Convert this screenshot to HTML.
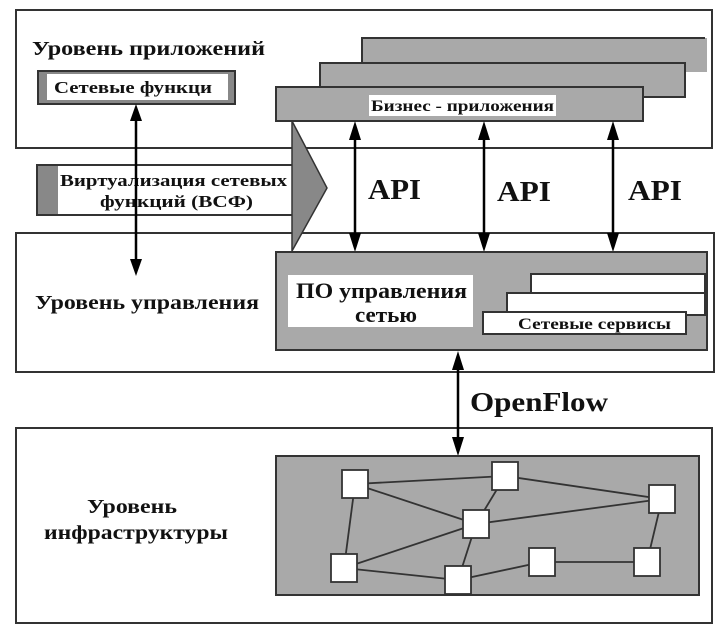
<!DOCTYPE html>
<html><head><meta charset="utf-8"><style>
html,body{margin:0;padding:0;background:#fff;}
svg{display:block;}
text{font-family:"Liberation Serif","DejaVu Serif",serif;font-weight:bold;fill:#111;}
</style></head><body>
<svg width="724" height="635" viewBox="0 0 724 635" xmlns="http://www.w3.org/2000/svg">
<g stroke="#333" stroke-width="2" fill="#fff">
<rect x="16" y="10" width="696" height="138"/>
<rect x="16" y="233" width="698" height="139"/>
<rect x="16" y="428" width="696" height="195"/>
</g>
<!-- business stack -->
<g stroke="#333" stroke-width="2" fill="#a9a9a9">
<rect x="362" y="38" width="345" height="34" stroke="none"/>
<path d="M362,72 V38 H705" fill="none"/>
<rect x="320" y="63" width="365" height="34"/>
<rect x="276" y="87" width="367" height="34"/>
</g>
<rect x="369" y="95" width="187" height="21" fill="#fff"/>
<text x="371" y="111" font-size="16" textLength="183" lengthAdjust="spacingAndGlyphs">Бизнес - приложения</text>
<!-- Сетевые функци -->
<rect x="38" y="71" width="197" height="33" fill="#888" stroke="#333" stroke-width="2"/>
<rect x="47" y="74" width="181" height="26" fill="#fff"/>
<text x="54" y="93" font-size="17" textLength="158" lengthAdjust="spacingAndGlyphs">Сетевые функци</text>
<!-- VSF arrow -->
<rect x="37" y="165" width="256" height="50" fill="#fff" stroke="#333" stroke-width="2"/>
<rect x="38" y="166" width="20" height="48" fill="#888"/>
<path d="M292,121 L327,188 L292,251 Z" fill="#888" stroke="#333" stroke-width="1.5"/>
<text x="60" y="186" font-size="17" textLength="227" lengthAdjust="spacingAndGlyphs">Виртуализация сетевых</text>
<text x="100" y="207" font-size="17" textLength="153" lengthAdjust="spacingAndGlyphs">функций (ВСФ)</text>
<!-- arrows -->
<g stroke="#000" stroke-width="2.5">
<line x1="136" y1="115" x2="136" y2="265"/>
<line x1="355" y1="132" x2="355" y2="240"/>
<line x1="484" y1="132" x2="484" y2="240"/>
<line x1="613" y1="132" x2="613" y2="240"/>
<line x1="458" y1="362" x2="458" y2="444"/>
</g>
<g fill="#000">
<path d="M136,104 L130,121 L142,121 Z"/><path d="M136,276 L130,259 L142,259 Z"/>
<path d="M355,121 L349,140 L361,140 Z"/><path d="M355,252 L349,233 L361,233 Z"/>
<path d="M484,121 L478,140 L490,140 Z"/><path d="M484,252 L478,233 L490,233 Z"/>
<path d="M613,121 L607,140 L619,140 Z"/><path d="M613,252 L607,233 L619,233 Z"/>
<path d="M458,351 L452,370 L464,370 Z"/><path d="M458,456 L452,437 L464,437 Z"/>
</g>
<text x="368" y="199" font-size="28" textLength="53" lengthAdjust="spacingAndGlyphs">API</text>
<text x="497" y="201" font-size="28" textLength="54" lengthAdjust="spacingAndGlyphs">API</text>
<text x="628" y="200" font-size="28" textLength="54" lengthAdjust="spacingAndGlyphs">API</text>
<text x="470" y="411" font-size="27" textLength="138" lengthAdjust="spacingAndGlyphs">OpenFlow</text>
<!-- ПО -->
<rect x="276" y="252" width="431" height="98" fill="#a9a9a9" stroke="#333" stroke-width="2"/>
<rect x="288" y="275" width="185" height="52" fill="#fff"/>
<text x="296" y="298" font-size="22" textLength="171" lengthAdjust="spacingAndGlyphs">ПО управления</text>
<text x="355" y="322" font-size="22" textLength="62" lengthAdjust="spacingAndGlyphs">сетью</text>
<g stroke="#333" stroke-width="2" fill="#fff">
<rect x="531" y="274" width="174" height="22"/>
<rect x="507" y="293" width="198" height="22"/>
<rect x="483" y="312" width="203" height="22"/>
</g>
<text x="518" y="329" font-size="16" textLength="153" lengthAdjust="spacingAndGlyphs">Сетевые сервисы</text>
<!-- labels -->
<text x="32" y="55" font-size="20" textLength="233" lengthAdjust="spacingAndGlyphs">Уровень приложений</text>
<text x="35" y="309" font-size="20" textLength="224" lengthAdjust="spacingAndGlyphs">Уровень управления</text>
<text x="87" y="513" font-size="20" textLength="90" lengthAdjust="spacingAndGlyphs">Уровень</text>
<text x="44" y="539" font-size="20" textLength="184" lengthAdjust="spacingAndGlyphs">инфраструктуры</text>
<!-- infra -->
<rect x="276" y="456" width="423" height="139" fill="#a9a9a9" stroke="#333" stroke-width="2"/>
<g stroke="#333" stroke-width="1.8">
<line x1="355" y1="484" x2="505" y2="476"/>
<line x1="355" y1="484" x2="476" y2="524"/>
<line x1="355" y1="484" x2="344" y2="568"/>
<line x1="505" y1="476" x2="476" y2="524"/>
<line x1="505" y1="476" x2="662" y2="499"/>
<line x1="476" y1="524" x2="662" y2="499"/>
<line x1="476" y1="524" x2="344" y2="568"/>
<line x1="476" y1="524" x2="458" y2="580"/>
<line x1="344" y1="568" x2="458" y2="580"/>
<line x1="458" y1="580" x2="542" y2="562"/>
<line x1="542" y1="562" x2="647" y2="562"/>
<line x1="662" y1="499" x2="647" y2="562"/>
</g>
<g stroke="#333" stroke-width="1.8" fill="#fff">
<rect x="342" y="470" width="26" height="28"/>
<rect x="492" y="462" width="26" height="28"/>
<rect x="649" y="485" width="26" height="28"/>
<rect x="463" y="510" width="26" height="28"/>
<rect x="331" y="554" width="26" height="28"/>
<rect x="445" y="566" width="26" height="28"/>
<rect x="529" y="548" width="26" height="28"/>
<rect x="634" y="548" width="26" height="28"/>
</g>
</svg>
</body></html>
